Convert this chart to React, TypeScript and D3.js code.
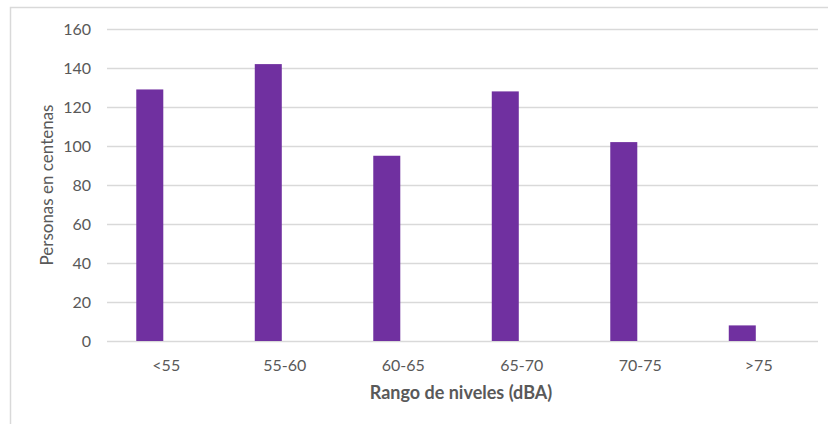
import React from "react";
import * as d3 from "d3";

const categories = ["<55", "55-60", "60-65", "65-70", "70-75", ">75"];
const values = [129, 142, 95, 128, 102, 8];
const yTicks = [0, 20, 40, 60, 80, 100, 120, 140, 160];
const xTitle = "Rango de niveles (dBA)";
const yTitle = "Personas en centenas";

const W = 828;
const H = 424;
const plot = { left: 107, right: 818, top: 29, bottom: 341 };
const font = "Lato, 'Open Sans', sans-serif";
const textColor = "#595959";
const gridColor = "#d9d9d9";
const barColor = "#7030A0";

export default function App() {
  const x = d3
    .scaleBand<string>()
    .domain(categories)
    .range([plot.left, plot.right])
    .padding(0);
  const y = d3.scaleLinear().domain([0, 160]).range([plot.bottom, plot.top]);
  const bw = x.bandwidth();
  const barW = bw * 0.228;

  return (
    <svg
      width={W}
      height={H}
      style={{ position: "absolute", left: 0, top: 0, display: "block", background: "#fff" }}
    >
      <rect x={10.5} y={7.5} width={W} height={H} fill="#fff" stroke={gridColor} strokeWidth={1.5} />
      {yTicks.map((t) => (
        <g key={t}>
          <line
            x1={plot.left}
            x2={plot.right}
            y1={Math.round(y(t)) + 0.5}
            y2={Math.round(y(t)) + 0.5}
            stroke={gridColor}
            strokeWidth={1.3}
          />
          <text
            x={91}
            y={y(t)}
            dy="0.35em"
            textAnchor="end"
            fontFamily={font}
            fontSize={16}
            fill={textColor}
          >
            {t}
          </text>
        </g>
      ))}
      {categories.map((c, i) => {
        const cx = (x(c) as number) + bw / 2;
        return (
          <g key={c}>
            <rect
              x={cx - bw * 0.025 - barW}
              y={y(values[i])}
              width={barW}
              height={y(0) - y(values[i])}
              fill={barColor}
            />
            <text
              x={cx}
              y={365}
              dy="0.35em"
              textAnchor="middle"
              fontFamily={font}
              fontSize={16}
              fill={textColor}
            >
              {c}
            </text>
          </g>
        );
      })}
      <text
        x={461}
        y={393}
        dy="0.35em"
        textAnchor="middle"
        fontFamily={font}
        fontSize={18}
        fontWeight="bold"
        fill={textColor}
      >
        {xTitle}
      </text>
      <text
        transform={`translate(47, 185) rotate(-90)`}
        dy="0.35em"
        textAnchor="middle"
        fontFamily={font}
        fontSize={17}
        fill={textColor}
      >
        {yTitle}
      </text>
    </svg>
  );
}
